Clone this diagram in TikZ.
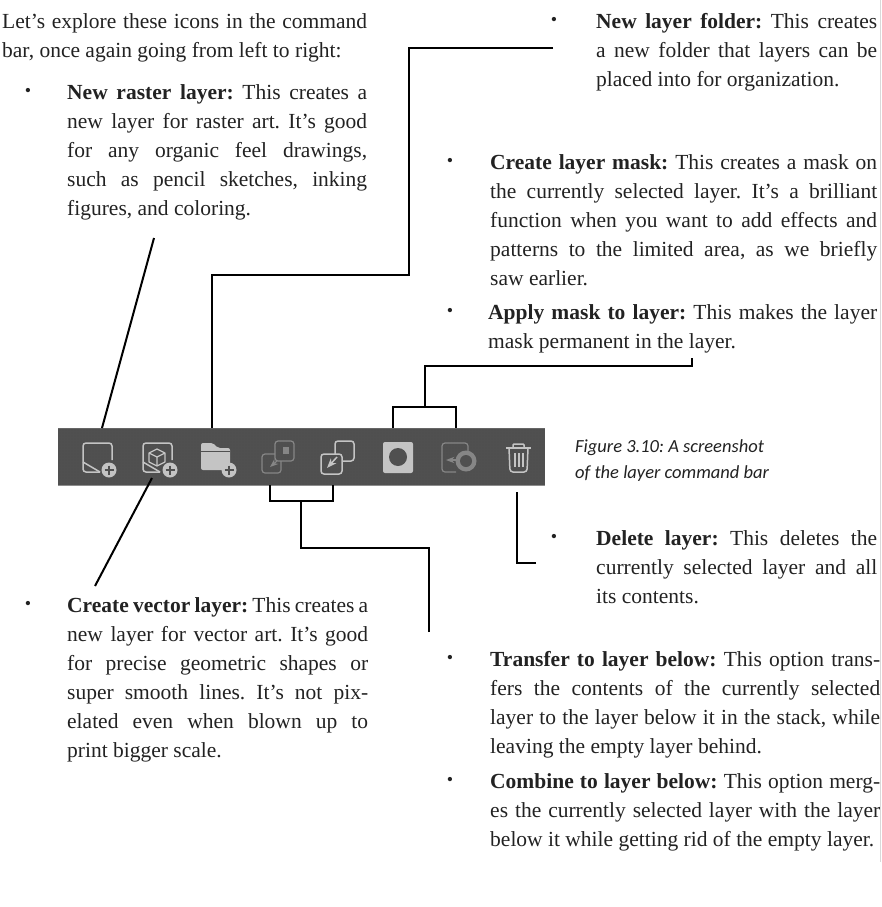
\documentclass[tikz,border=0pt]{standalone}
\usepackage{fontspec}
\setmainfont{Liberation Serif}
\newfontfamily\capfont{Carlito}
\usetikzlibrary{positioning, arrows.meta, patterns}
\definecolor{inkcol}{HTML}{222222}
\definecolor{barcol}{HTML}{505050}
\definecolor{iconcol}{HTML}{C4C4C4}
\definecolor{dimcol}{HTML}{868686}
\tolerance=9999
\hbadness=10000
\hfuzz=20pt
\frenchspacing
\newcommand{\plusicon}[2]{
    \fill[iconcol] (#1,#2) circle (7.5);
    \draw[barcol, line width=1.6] (#1-4.5,#2) -- (#1+4.5,#2) (#1,#2-4.5) -- (#1,#2+4.5);
}
\begin{document}
\begin{tikzpicture}[
        x=1pt, y=-1pt,
        >=Stealth,
        para/.style={anchor=north west, inner sep=0pt, align=justify, text=inkcol,
            font=\fontsize{21.5}{29}\selectfont},
        bullet/.style={inner sep=0pt, text=inkcol, font=\fontsize{18}{20}\selectfont},
        caption/.style={anchor=west, inner sep=0pt, text=inkcol, font=\capfont\itshape\fontsize{18.5}{24}\selectfont},
        leader/.style={draw=black, line width=2pt},
        iconline/.style={draw=iconcol, line width=1.5pt, rounded corners=3pt},
        dimline/.style={draw=dimcol, line width=1.2pt, rounded corners=3pt}
    ]
        \useasboundingbox (0,0) rectangle (881,907);
        \fill[white] (0,0) rectangle (881,907);
        \draw[black!15, line width=1pt] (880.5,0) -- (880.5,862);

        % text blocks
        \node[para, text width=365pt] (intro) at (2,8) {\strut Let's explore these icons in the command\linebreak bar, once again going from left to right:};

        \node[bullet] (b1) at (28,92) {•};
        \node[para, text width=300pt] (raster) at (67,79) {\strut\textbf{New raster layer:} This creates a\linebreak new layer for raster art. It's good\linebreak for any organic feel drawings,\linebreak such as pencil sketches, inking\linebreak figures, and coloring.};

        \node[bullet] (b2) at (554,21) {•};
        \node[para, text width=281pt] (folder) at (596,8) {\strut\textbf{New layer folder:} This creates\linebreak a new folder that layers can be\linebreak placed into for organization.};

        \node[bullet] (b3) at (450,162) {•};
        \node[para, text width=387pt] (mask) at (490,149) {\strut\textbf{Create layer mask:} This creates a mask on\linebreak the currently selected layer. It's a brilliant\linebreak function when you want to add effects and\linebreak patterns to the limited area, as we briefly\linebreak saw earlier.};

        \node[bullet] (b4) at (450,312) {•};
        \node[para, text width=389pt] (apply) at (488,299) {\strut\textbf{Apply mask to layer:} This makes the layer\linebreak mask permanent in the layer.};

        \node[bullet] (b5) at (554,538) {•};
        \node[para, text width=281pt] (delete) at (596,525) {\strut\textbf{Delete layer:} This deletes the\linebreak currently selected layer and all\linebreak its contents.};

        \node[bullet] (b6) at (450,659) {•};
        \node[para, text width=390pt] (transfer) at (490,646) {\strut\textbf{Transfer to layer below:} This option trans-\linebreak fers the contents of the currently selected\linebreak layer to the layer below it in the stack, while\linebreak leaving the empty layer behind.};

        \node[bullet] (b7) at (450,781) {•};
        \node[para, text width=390pt] (combine) at (490,768) {\strut\textbf{Combine to layer below:} This option merg-\linebreak es the currently selected layer with the layer\linebreak below it while getting rid of the empty layer.};

        \node[bullet] (b8) at (28,605) {•};
        \node[para, text width=301pt] (vector) at (67,592) {\strut\textbf{Create vector layer:} This creates a\linebreak new layer for vector art. It's good\linebreak for precise geometric shapes or\linebreak super smooth lines. It's not pix-\linebreak elated even when blown up to\linebreak print bigger scale.};

        \node[caption] (cap1) at (575,448) {Figure 3.10: A screenshot};
        \node[caption] (cap2) at (575,474) {of the layer command bar};

        % command bar
        \node[fill=barcol, inner sep=0pt, minimum width=487pt, minimum height=57pt, anchor=north west] (bar) at (58,428) {};
        \fill[pattern=dots, pattern color=black!70] (bar.north west) rectangle (bar.south east);
        \draw[black!60, line width=1pt] (bar.north west) -- (bar.north east);
        \draw[black!45, line width=1pt] (bar.south west) -- (bar.south east);

        % raster icon
        \draw[iconline] (100,472) -- (83,472) -- (83,443) -- (112,443) -- (112,460);
        \draw[iconline, rounded corners=0pt] (83,462) -- (100,472);
        \plusicon{109}{470}
        % vector icon
        \draw[iconline] (160,472) -- (143,472) -- (143,443) -- (172,443) -- (172,460);
        \draw[iconline, rounded corners=0pt] (143,462) -- (160,472);
        \draw[draw=iconcol, line width=1.2pt, line join=round] (157,449) -- (165,453) -- (165,462) -- (157,466) -- (149,462) -- (149,453) -- cycle
            (149,453) -- (157,457) -- (165,453) (157,457) -- (157,466);
        \plusicon{170}{470}
        % folder icon
        \fill[iconcol, rounded corners=2pt] (201,443) -- (213,443) -- (218,448) -- (230,448) -- (230,470) -- (201,470) -- cycle;
        \draw[barcol, line width=1pt] (201,451) -- (230,451);
        \plusicon{229}{470}
        % transfer icon
        \draw[dimline] (275,441) rectangle (294,461);
        \draw[dimline] (275,454) -- (262,454) -- (262,473) -- (281,473) -- (281,461);
        \fill[dimcol] (283,447) rectangle (289,454);
        \draw[dimline, rounded corners=0pt, ->] (277,461) -- (270,467);
        % combine icon
        \draw[iconline] (335,454) -- (335,441) -- (354,441) -- (354,461) -- (342,461);
        \draw[iconline] (321,454) rectangle (342,474);
        \draw[iconline, rounded corners=0pt, ->] (337,457) -- (327,468);
        % mask icon
        \fill[iconcol, rounded corners=2pt] (383,442) rectangle (413,473);
        \fill[barcol] (398,457) circle (9);
        % apply mask icon
        \draw[dimline] (468,453) -- (468,443) -- (442,443) -- (442,472) -- (456,472);
        \fill[dimcol] (466,461) circle (10.5);
        \fill[barcol] (466,461) circle (6);
        \draw[dimline, rounded corners=0pt, ->] (458,460) -- (446,460);
        % trash icon
        \draw[iconline, rounded corners=1pt] (506,448) -- (531,448);
        \draw[iconline, rounded corners=1pt] (513,448) -- (513,444) -- (524,444) -- (524,448);
        \draw[iconline] (509,448) -- (510,472) -- (527,472) -- (528,448);
        \draw[iconline, rounded corners=0pt] (515,453) -- (515,467) (519,453) -- (519,467) (523,453) -- (523,467);

        % connector ends
        \coordinate (rastertail) at (154,238);
        \coordinate (rasterhead) at (102,428);
        \coordinate (vectortail) at (95,586);
        \coordinate (vectorhead) at (152,478);
        \coordinate (foldertail) at (553,48);
        \coordinate (folderhead) at (212,428);
        \coordinate (masktail) at (692,358);
        \coordinate (maskmid) at (425,407);
        \coordinate (maskleft) at (393,428);
        \coordinate (maskright) at (456,428);
        \coordinate (deletetail) at (536,563);
        \coordinate (deletehead) at (517,492);
        \coordinate (movetail) at (429,632);
        \coordinate (movemid) at (301,501);
        \coordinate (moveleft) at (270,485);
        \coordinate (moveright) at (333,485);

        \draw[leader] (rastertail) -- (rasterhead);
        \draw[leader] (vectortail) -- (vectorhead);
        \draw[leader] (foldertail) -- (409,48) -- (409,275) -- (212,275) -- (folderhead);
        \draw[leader] (masktail) -- (692,366) -- (425,366) -- (maskmid);
        \draw[leader] (maskleft) -- (393,407) -- (456,407) -- (maskright);
        \draw[leader] (deletetail) -- (517,563) -- (deletehead);
        \draw[leader] (movetail) -- (429,548) -- (301,548) -- (movemid);
        \draw[leader] (moveleft) -- (270,501) -- (333,501) -- (moveright);
    \end{tikzpicture}
\end{document}
